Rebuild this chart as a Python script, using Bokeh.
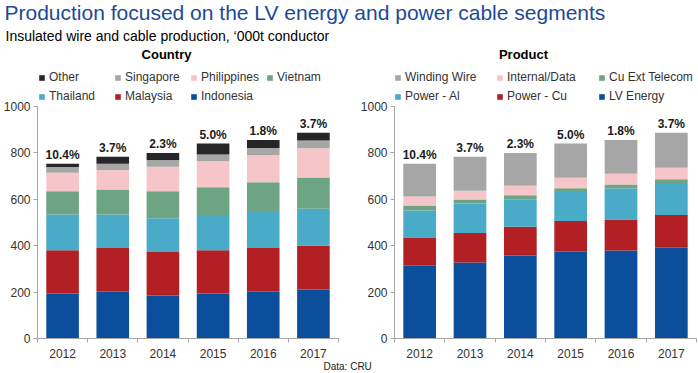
import numpy as np
from bokeh.plotting import figure
from bokeh.models import (ColumnDataSource, Range1d, FixedTicker, Label, Legend, LegendItem)
from bokeh.layouts import column, row
from bokeh.embed import file_html
from bokeh.resources import INLINE
from bokeh.core.properties import value

# ---------------- data ----------------
years = ["2012", "2013", "2014", "2015", "2016", "2017"]
growth = [10.4, 3.7, 2.3, 5.0, 1.8, 3.7]
y_ticks = [0, 200, 400, 600, 800, 1000]

country_names = ["Indonesia", "Malaysia", "Thailand", "Vietnam", "Philippines", "Singapore", "Other"]
indonesia = [194, 201, 185, 194, 201, 211]
malaysia = [186, 189, 188, 186, 189, 189]
thailand = [155, 145, 145, 152, 155, 159]
vietnam = [100, 107, 117, 120, 128, 135]
philippines = [79, 84, 105, 112, 117, 126]
singapore = [25, 27, 29, 29, 31, 33]
other = [14, 30, 31, 47, 35, 34]

product_names = ["LV Energy", "Power - Cu", "Power - Al", "Cu Ext Telecom", "Internal/Data", "Winding Wire"]
lv_energy = [314, 328, 358, 374, 379, 391]
power_cu = [119, 127, 124, 132, 134, 141]
power_al = [119, 127, 116, 126, 134, 138]
cu_ext_telecom = [21, 17, 19, 16, 17, 16]
internal_data = [39, 38, 41, 45, 46, 50]
winding_wire = [141, 146, 142, 147, 146, 151]

country_colors = ["#0B4E9B", "#B22024", "#49ABC7", "#6CA484", "#F5C5C9", "#A6A6A6", "#262626"]
product_colors = ["#0B4E9B", "#B22024", "#49ABC7", "#6CA484", "#F5C5C9", "#A6A6A6"]

FONT = "Liberation Sans"
HH = 45           # header height
CH = 315          # chart figure height
BB = 22           # bottom border (x axis)
FH = CH - BB      # frame height (px)
TOP_GAP = 61      # px from frame top to the 1000 level
FOOT = 12         # footer height
LIFT = 6          # label baseline correction (px)


def make_chart(title, names, series, colors, width, border_left, border_right,
               title_x, legend_x, label_w, ncols):
    n = len(years)
    centers = [i + 0.5 for i in range(n)]
    data = dict(x=centers)
    keys = ["s%d" % i for i in range(len(names))]
    for k, v in zip(keys, series):
        data[k] = v
    src = ColumnDataSource(data)

    ymax = 1000.0 * FH / (FH - TOP_GAP)
    p = figure(width=width, height=CH, title=None,
               x_range=Range1d(0, n), y_range=Range1d(0, ymax),
               toolbar_location=None, output_backend="svg",
               min_border_left=border_left, min_border_right=border_right,
               min_border_top=0, min_border_bottom=BB,
               outline_line_color=None, background_fill_color="white",
               border_fill_color="white")
    p.xgrid.visible = False
    p.ygrid.visible = False

    rs = p.vbar_stack(keys, x="x", width=0.65, color=colors, line_color=None, source=src)

    totals = np.sum(np.array(series), axis=0)
    lab_src = ColumnDataSource(dict(x=centers, y=list(totals),
                                    t=["%.1f%%" % g for g in growth]))
    p.text(x="x", y="y", text="t", source=lab_src, text_font=value(FONT),
           text_font_style="bold", text_font_size="12px", text_align="center",
           text_baseline="alphabetic", y_offset=-9, text_color="#1a1a1a")

    ya = p.yaxis[0]
    ya.ticker = FixedTicker(ticks=y_ticks)
    ya.bounds = (0, 1000)
    ya.axis_line_color = "#A6A6A6"
    ya.major_tick_line_color = "#A6A6A6"
    ya.major_tick_out = 4
    ya.major_tick_in = 0
    ya.minor_tick_line_color = None
    ya.major_label_standoff = 3
    ya.major_label_text_font = FONT
    ya.major_label_text_font_size = "12px"
    ya.major_label_text_color = "#333333"

    xa = p.xaxis[0]
    xa.ticker = FixedTicker(ticks=centers, minor_ticks=list(range(n + 1)))
    xa.major_label_overrides = {c: y for c, y in zip(centers, years)}
    xa.axis_line_color = "#A6A6A6"
    xa.major_tick_line_color = None
    xa.major_tick_out = 0
    xa.major_tick_in = 0
    xa.minor_tick_line_color = "#A6A6A6"
    xa.minor_tick_out = 4
    xa.minor_tick_in = 0
    xa.major_label_standoff = 6
    xa.major_label_text_font = FONT
    xa.major_label_text_font_size = "12px"
    xa.major_label_text_color = "#333333"

    p.add_layout(Label(x=title_x, y=FH - 14.5 + LIFT, x_units="screen", y_units="screen",
                       text=title, text_font=FONT, text_font_style="bold",
                       text_font_size="13px", text_align="center",
                       text_baseline="alphabetic", text_color="#000000"))

    items = [LegendItem(label=nm, renderers=[r]) for nm, r in zip(names, rs)][::-1]
    leg = Legend(items=items, location=(legend_x, FH - 60.5), ncols=ncols,
                 orientation="horizontal", glyph_width=7, glyph_height=7,
                 label_width=label_w, label_height=19, label_standoff=4,
                 spacing=0, padding=0, margin=0,
                 background_fill_alpha=0, border_line_color=None,
                 label_text_font=FONT, label_text_font_size="12px",
                 label_text_color="#333333")
    p.add_layout(leg)
    return p


left = make_chart("Country", country_names,
                  [indonesia, malaysia, thailand, vietnam, philippines, singapore, other],
                  country_colors, 357, 35, 19, 129, 1, 65, 4)
right = make_chart("Product", product_names,
                   [lv_energy, power_cu, power_al, cu_ext_telecom, internal_data, winding_wire],
                   product_colors, 340, 36, 1, 129, 0, 91, 3)


def text_strip(h):
    f = figure(width=697, height=h, title=None, x_range=Range1d(0, 1), y_range=Range1d(0, 1),
               toolbar_location=None, output_backend="svg", min_border=0,
               x_axis_location=None, y_axis_location=None, outline_line_color=None,
               background_fill_color="white", border_fill_color="white")
    f.xgrid.visible = False
    f.ygrid.visible = False
    return f


header = text_strip(HH)
header.add_layout(Label(x=4, y=HH - 18 + LIFT, x_units="screen", y_units="screen",
                        text="Production focused on the LV energy and power cable segments",
                        text_font=FONT, text_font_size="21px", text_color="#1B4A98",
                        text_baseline="alphabetic"))
header.add_layout(Label(x=5, y=HH - 41 + LIFT, x_units="screen", y_units="screen",
                        text="Insulated wire and cable production, \u2018000t conductor",
                        text_font=FONT, text_font_size="14px", text_color="#000000",
                        text_baseline="alphabetic"))

footer = text_strip(FOOT)
footer.add_layout(Label(x=323, y=1 + 5, x_units="screen", y_units="screen",
                        text="Data: CRU", text_font=FONT, text_font_size="10px",
                        text_color="#222222", text_baseline="alphabetic"))

layout = column(header, row(left, right), footer)
open("out.html", "w").write(file_html(layout, INLINE))
